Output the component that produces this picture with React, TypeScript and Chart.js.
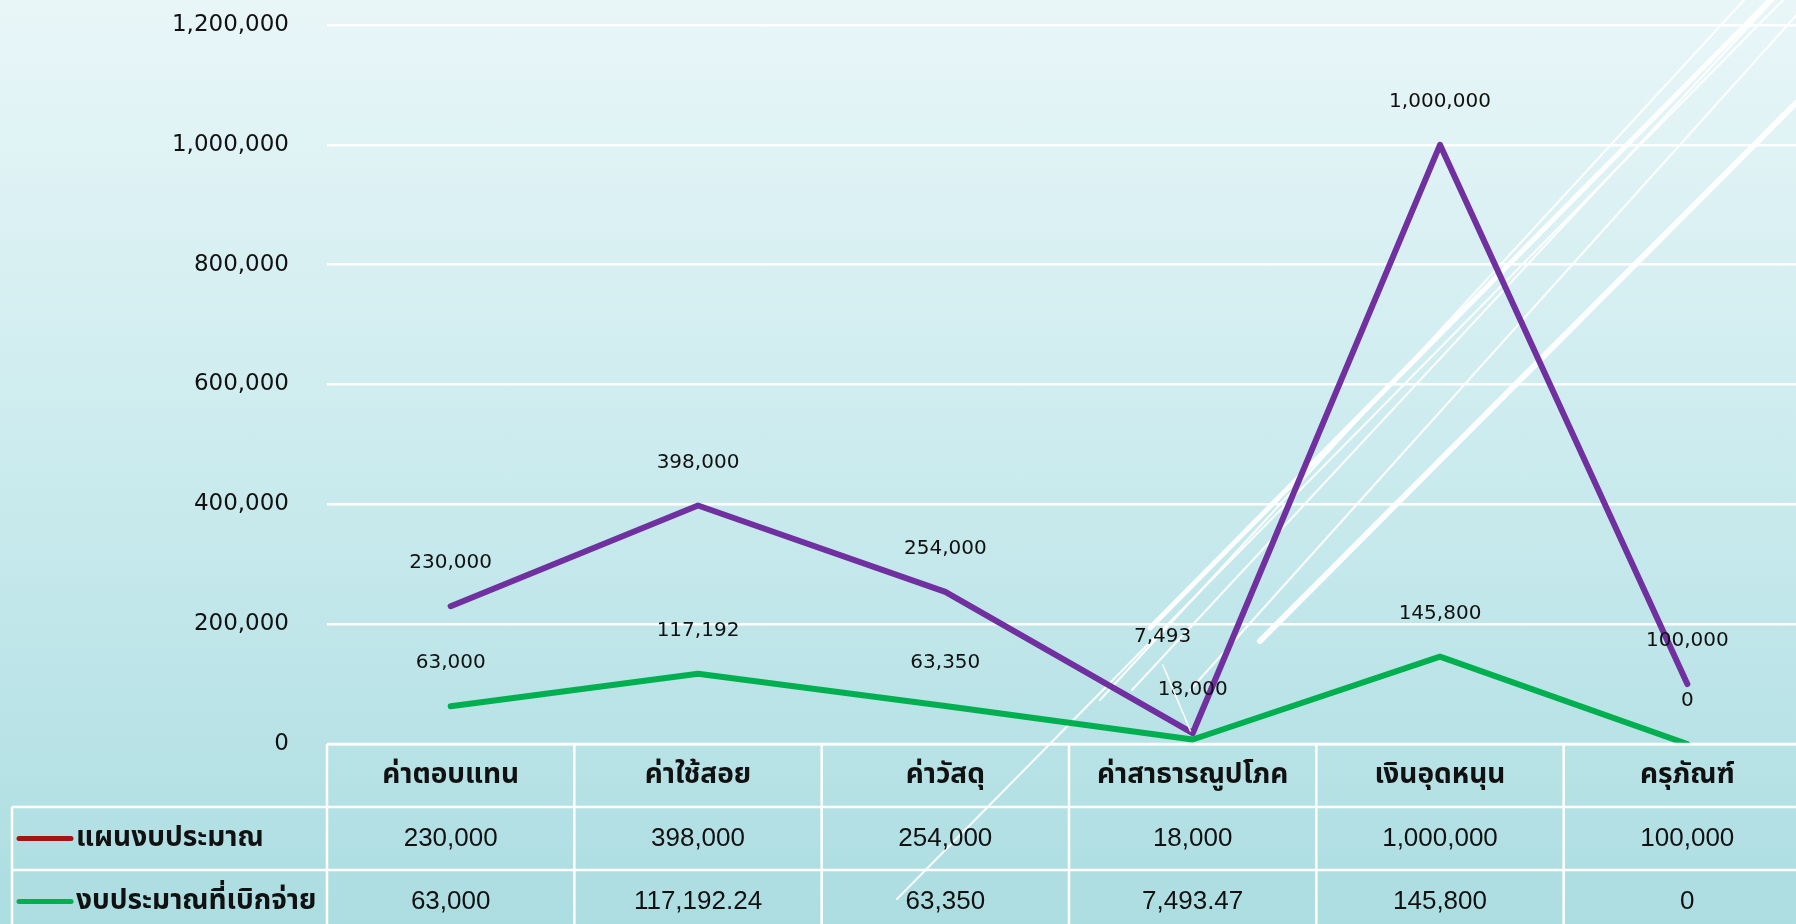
import React, { useEffect, useRef } from "react";
import { Chart, registerables } from "chart.js";

Chart.register(...registerables);

// ---------- data ----------
const categories = ["ค่าตอบแทน", "ค่าใช้สอย", "ค่าวัสดุ", "ค่าสาธารณูปโภค", "เงินอุดหนุน", "ครุภัณฑ์"];
const seriesNames = ["แผนงบประมาณ", "งบประมาณที่เบิกจ่าย"];
const planValues = [230000, 398000, 254000, 18000, 1000000, 100000];
const spentValues = [63000, 117192.24, 63350, 7493.47, 145800, 0];
const yTickValues = [0, 200000, 400000, 600000, 800000, 1000000, 1200000];

// ---------- styles ----------
const lineColors = ["#7030a0", "#00b050"];
const legendSwatchColors = ["#a31515", "#00b050"];
const CANVAS_W = 1811;
const CANVAS_H = 924;
const PLOT_TOP = 25;
const PLOT_BOTTOM = 744;
const AXIS_FONT = '"DejaVu Sans", "Noto Sans", sans-serif';
const TABLE_FONT = '"Liberation Sans", "Noto Sans Thai", "Noto Sans", sans-serif';
// label nudges [datasetIndex, pointIndex, dx, dy]
const labelNudges: [number, number, number, number][] = [[1, 3, -30, -60]];

const fmtInt = (v: number) => Math.round(v).toLocaleString("en-US");
const fmtTable = (v: number) => v.toLocaleString("en-US", { maximumFractionDigits: 2 });

const decorPlugin = {
  id: "decor",
  beforeDatasetsDraw(chart: any) {
    const ctx = chart.ctx;
    const W = 1796, H = CANVAS_H;
    const lines: [number, number, number, number, number][] = [
      [897 / W, 899 / H, 1783 / W, 0, 2],
      [1100 / W, 700 / H, 1744 / W, 0, 2],
      [1132 / W, 690 / H, 1792 / W, -20 / H, 2],
      [1150 / W, 628 / H, 1770 / W, 0, 5],
      [1190 / W, 690 / H, 1810 / W, 0, 2],
      [1260 / W, 641 / H, 1796 / W, 103 / H, 6],
    ];
    ctx.save();
    ctx.strokeStyle = "rgba(255,255,255,0.95)";
    ctx.lineCap = "round";
    for (const [x1, y1, x2, y2, w] of lines) {
      ctx.lineWidth = w;
      ctx.beginPath();
      ctx.moveTo(x1 * W, y1 * H);
      ctx.lineTo(x2 * W, y2 * H);
      ctx.stroke();
    }
    ctx.restore();
  },
};

const labelPlugin = {
  id: "valueLabels",
  afterDatasetsDraw(chart: any) {
    const ctx = chart.ctx;
    ctx.save();
    ctx.font = `20px ${AXIS_FONT}`;
    ctx.fillStyle = "#111";
    ctx.textAlign = "center";
    ctx.textBaseline = "middle";
    chart.data.datasets.forEach((ds: any, di: number) => {
      const meta = chart.getDatasetMeta(di);
      meta.data.forEach((pt: any, i: number) => {
        const nudge = labelNudges.find((n) => n[0] === di && n[1] === i);
        const dx = nudge ? nudge[2] : 0;
        const dy = nudge ? nudge[3] : 0;
        const lx = pt.x + dx;
        const ly = pt.y - 43 + dy;
        if (nudge) {
          ctx.save();
          ctx.strokeStyle = "#ffffff";
          ctx.lineWidth = 1.5;
          ctx.beginPath();
          ctx.moveTo(lx, ly + 28);
          ctx.lineTo(pt.x - 2, pt.y - 8);
          ctx.stroke();
          ctx.restore();
        }
        ctx.fillText(fmtInt(ds.data[i]), lx, ly);
      });
    });
    ctx.restore();
  },
};

const tablePlugin = {
  id: "dataTable",
  afterDraw(chart: any) {
    const ctx = chart.ctx;
    const area = chart.chartArea;
    const xs = chart.scales.x;
    const n = categories.length;
    const colW = (area.right - area.left) / n;
    const top = area.bottom;
    const rowH = 63;
    const legendLeft = 12;
    const bottom = CANVAS_H + 10;
    ctx.save();
    ctx.strokeStyle = "#ffffff";
    ctx.lineWidth = 2.5;
    ctx.beginPath();
    ctx.moveTo(area.left, top);
    ctx.lineTo(area.right, top);
    for (let r = 1; r <= 2; r++) {
      ctx.moveTo(legendLeft, top + r * rowH);
      ctx.lineTo(area.right, top + r * rowH);
    }
    for (let c = 0; c <= n; c++) {
      const x = area.left + c * colW;
      ctx.moveTo(x, top);
      ctx.lineTo(x, bottom);
    }
    ctx.moveTo(legendLeft, top + rowH);
    ctx.lineTo(legendLeft, bottom);
    ctx.stroke();

    ctx.fillStyle = "#111";
    ctx.textAlign = "center";
    ctx.textBaseline = "middle";
    ctx.font = `bold 28px ${TABLE_FONT}`;
    categories.forEach((c, i) => {
      ctx.fillText(c, xs.getPixelForValue(i), top + rowH / 2);
    });
    ctx.font = `26px ${TABLE_FONT}`;
    const rows = [planValues, spentValues];
    rows.forEach((vals, r) => {
      vals.forEach((v, i) => {
        ctx.fillText(fmtTable(v), xs.getPixelForValue(i), top + rowH * (r + 1.5));
      });
    });
    // legend keys
    seriesNames.forEach((name, r) => {
      const cy = top + rowH * (r + 1.5);
      ctx.strokeStyle = legendSwatchColors[r];
      ctx.lineWidth = 5;
      ctx.lineCap = "round";
      ctx.beginPath();
      ctx.moveTo(19, cy);
      ctx.lineTo(71, cy);
      ctx.stroke();
      ctx.textAlign = "left";
      ctx.font = `bold 28px ${TABLE_FONT}`;
      ctx.fillText(name, 76, cy);
    });
    ctx.restore();
  },
};

export default function App() {
  const ref = useRef<HTMLCanvasElement>(null);
  useEffect(() => {
    if (!ref.current) return;
    const chart = new Chart(ref.current, {
      type: "line",
      data: {
        labels: categories,
        datasets: [
          {
            label: seriesNames[0],
            data: planValues,
            borderColor: lineColors[0],
            backgroundColor: lineColors[0],
            borderWidth: 6,
            pointRadius: 0,
            borderCapStyle: "round",
            borderJoinStyle: "round",
            tension: 0,
          },
          {
            label: seriesNames[1],
            data: spentValues,
            borderColor: lineColors[1],
            backgroundColor: lineColors[1],
            borderWidth: 6,
            pointRadius: 0,
            borderCapStyle: "round",
            borderJoinStyle: "round",
            tension: 0,
          },
        ],
      },
      options: {
        responsive: false,
        animation: false,
        layout: { padding: { top: 0, bottom: CANVAS_H - PLOT_BOTTOM, left: 0, right: 0 } },
        plugins: {
          legend: { display: false },
          tooltip: { enabled: false },
        },
        scales: {
          x: {
            type: "category",
            display: false,
            offset: true,
          },
          y: {
            min: 0,
            max: 1200000,
            afterFit(scale: any) {
              scale.width = 327;
              scale.paddingTop = PLOT_TOP;
            },
            afterBuildTicks(scale: any) {
              scale.ticks = yTickValues.map((v) => ({ value: v }));
            },
            border: { display: false },
            grid: { color: "#ffffff", lineWidth: 2.5, drawTicks: false },
            ticks: {
              padding: 38,
              color: "#111",
              font: { family: AXIS_FONT, size: 23 },
              callback: (v: any) => Number(v).toLocaleString("en-US"),
            },
          },
        },
      },
      plugins: [decorPlugin, labelPlugin, tablePlugin],
    });
    return () => chart.destroy();
  }, []);
  return (
    <div
      style={{
        position: "fixed",
        left: 0,
        top: 0,
        width: 1796,
        height: 924,
        overflow: "hidden",
        background: "linear-gradient(to bottom, #e9f6f8 0%, #cbebee 50%, #acdde1 100%)",
      }}
    >
      <canvas ref={ref} width={CANVAS_W} height={CANVAS_H} style={{ width: CANVAS_W, height: CANVAS_H, display: "block" }} />
    </div>
  );
}
